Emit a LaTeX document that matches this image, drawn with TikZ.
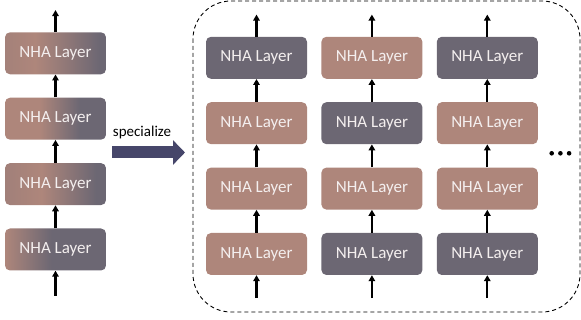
\documentclass[tikz,border=0pt]{standalone}
\usepackage{fontspec}
\setmainfont{Carlito}
\usetikzlibrary{arrows.meta, positioning}

\definecolor{nhabrown}{RGB}{174,134,123}
\definecolor{nhagray}{RGB}{108,103,115}
\definecolor{nhatext}{RGB}{244,239,239}
\definecolor{specblue}{RGB}{70,70,106}

% left column: mixed layers (shading spans 25bp..75bp of the box)
\pgfdeclarehorizontalshading{mixone}{100bp}{color(0bp)=(nhabrown!85!nhagray); color(25bp)=(nhabrown!85!nhagray);
  color(40bp)=(nhabrown); color(52bp)=(nhabrown!65!nhagray); color(72bp)=(nhagray); color(100bp)=(nhagray)}
\pgfdeclarehorizontalshading{mixtwo}{100bp}{color(0bp)=(nhabrown); color(25bp)=(nhabrown);
  color(42bp)=(nhabrown); color(62bp)=(nhagray); color(100bp)=(nhagray)}
\pgfdeclarehorizontalshading{mixthree}{100bp}{color(0bp)=(nhabrown!80!nhagray); color(25bp)=(nhabrown!80!nhagray);
  color(43bp)=(nhabrown); color(70bp)=(nhagray); color(100bp)=(nhagray)}
\pgfdeclarehorizontalshading{mixfour}{100bp}{color(0bp)=(nhabrown); color(25bp)=(nhabrown);
  color(48bp)=(nhagray); color(100bp)=(nhagray)}

\begin{document}
\begin{tikzpicture}[x=1pt, y=-1pt, node distance=23pt]
\tikzstyle{layer} = [rectangle, rounded corners=5pt, minimum width=101pt, minimum height=42pt, inner sep=0pt, text=nhatext, font=\fontsize{17}{19}\selectfont]
\tikzstyle{brownlayer} = [layer, fill=nhabrown]
\tikzstyle{graylayer} = [layer, fill=nhagray]
\tikzstyle{flow} = [draw, -{Triangle[length=6pt, width=6.5pt]}, line width=2.2pt]
\tikzstyle{spec} = [draw=specblue, -{Triangle[length=12pt, width=24pt]}, line width=12pt, color=specblue]

\useasboundingbox (0,0) rectangle (581,320);

% base model
\node [layer, shading=mixfour] (left1) at (55.5,249.5) {NHA Layer};
\node [layer, shading=mixthree, above=of left1] (left2) {NHA Layer};
\node [layer, shading=mixtwo, above=of left2] (left3) {NHA Layer};
\node [layer, shading=mixone, above=of left3] (left4) {NHA Layer};
\coordinate [below=25pt of left1.south] (leftin);
\coordinate [above=22pt of left4.north] (leftout);

\path [flow] (leftin) -- (left1);
\path [flow] (left1) -- (left2);
\path [flow] (left2) -- (left3);
\path [flow] (left3) -- (left4);
\path [flow] (left4) -- (leftout);

% specialize
\coordinate (specfrom) at (112,152.5);
\coordinate (specto) at (185,152.5);
\path [spec] (specfrom) -- (specto);
\node [anchor=base, font=\fontsize{15}{17}\selectfont] (speclabel) at (142,137) {specialize};

% specialized models
\draw [dashed, line width=0.9pt, dash pattern=on 4pt off 3pt, rounded corners=38pt] (193,1) rectangle (580,312);

\node [brownlayer] (colA1) at (256.5,254) {NHA Layer};
\node [brownlayer, above=of colA1] (colA2) {NHA Layer};
\node [brownlayer, above=of colA2] (colA3) {NHA Layer};
\node [graylayer, above=of colA3] (colA4) {NHA Layer};

\node [graylayer, right=14pt of colA1] (colB1) {NHA Layer};
\node [brownlayer, above=of colB1] (colB2) {NHA Layer};
\node [graylayer, above=of colB2] (colB3) {NHA Layer};
\node [brownlayer, above=of colB3] (colB4) {NHA Layer};

\node [graylayer, right=14pt of colB1] (colC1) {NHA Layer};
\node [brownlayer, above=of colC1] (colC2) {NHA Layer};
\node [brownlayer, above=of colC2] (colC3) {NHA Layer};
\node [graylayer, above=of colC3] (colC4) {NHA Layer};

\foreach \col in {colA, colB, colC} {
  \coordinate [below=23pt of \col1.south] (\col in);
  \coordinate [above=22pt of \col4.north] (\col out);
  \path [flow] (\col in) -- (\col1);
  \path [flow] (\col1) -- (\col2);
  \path [flow] (\col2) -- (\col3);
  \path [flow] (\col3) -- (\col4);
  \path [flow] (\col4) -- (\col out);
}

% more models
\foreach \dx in {0, 8.7, 17.4}
  \fill (551.7+\dx,153.3) circle (2.3pt);
\end{tikzpicture}
\end{document}
